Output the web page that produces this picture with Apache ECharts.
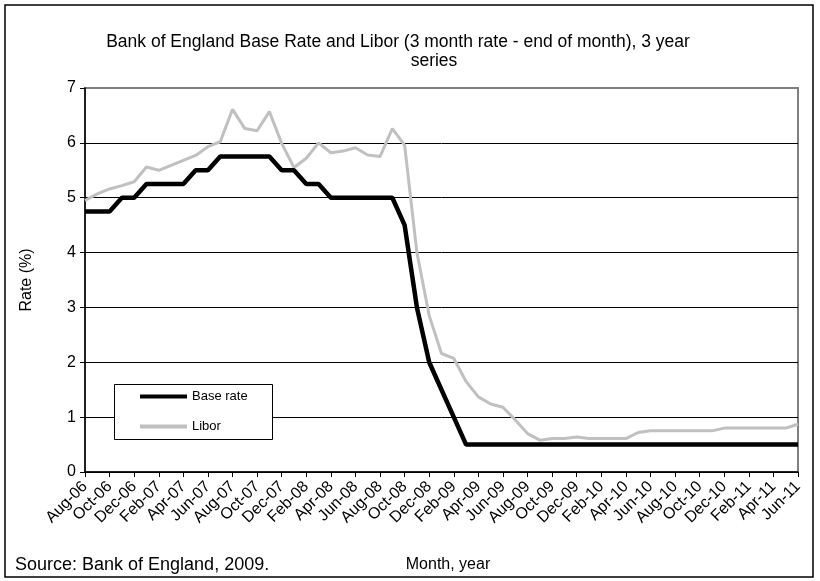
<!DOCTYPE html>
<html><head><meta charset="utf-8">
<script src="https://cdn.jsdelivr.net/npm/echarts@6/dist/echarts.min.js"></script>
<style>html,body{margin:0;padding:0;background:#fff}#c{width:820px;height:581px}</style>
</head><body><div id="c"></div>
<script>
const months = ['Aug-06','Sep-06','Oct-06','Nov-06','Dec-06','Jan-07','Feb-07','Mar-07','Apr-07','May-07','Jun-07','Jul-07',
'Aug-07','Sep-07','Oct-07','Nov-07','Dec-07','Jan-08','Feb-08','Mar-08','Apr-08','May-08','Jun-08','Jul-08',
'Aug-08','Sep-08','Oct-08','Nov-08','Dec-08','Jan-09','Feb-09','Mar-09','Apr-09','May-09','Jun-09','Jul-09',
'Aug-09','Sep-09','Oct-09','Nov-09','Dec-09','Jan-10','Feb-10','Mar-10','Apr-10','May-10','Jun-10','Jul-10',
'Aug-10','Sep-10','Oct-10','Nov-10','Dec-10','Jan-11','Feb-11','Mar-11','Apr-11','May-11','Jun-11'];
const baseRate = [4.75,4.75,4.75,5.0,5.0,5.25,5.25,5.25,5.25,5.5,5.5,5.75,
5.75,5.75,5.75,5.75,5.5,5.5,5.25,5.25,5.0,5.0,5.0,5.0,
5.0,5.0,4.5,3.0,2.0,1.5,1.0,0.5,0.5,0.5,0.5,0.5,
0.5,0.5,0.5,0.5,0.5,0.5,0.5,0.5,0.5,0.5,0.5,0.5,
0.5,0.5,0.5,0.5,0.5,0.5,0.5,0.5,0.5,0.5,0.5];
const libor = [4.95,5.07,5.16,5.22,5.29,5.56,5.50,5.59,5.68,5.77,5.93,6.02,
6.61,6.26,6.22,6.57,5.99,5.55,5.72,6.00,5.82,5.85,5.91,5.78,
5.75,6.26,5.96,4.00,2.85,2.16,2.07,1.65,1.37,1.24,1.18,0.95,
0.70,0.58,0.61,0.61,0.64,0.61,0.61,0.61,0.61,0.72,0.75,0.75,
0.75,0.75,0.75,0.75,0.80,0.80,0.80,0.80,0.80,0.80,0.87];
const yTicks = [0,1,2,3,4,5,6,7];
const titleLine1 = 'Bank of England Base Rate and Libor (3 month rate - end of month), 3 year';
const titleLine2 = 'series';

const FONT = '"Liberation Sans", Arial, sans-serif';
const chart = echarts.init(document.getElementById('c'), null, {renderer:'canvas'});
chart.setOption({
  animation:false,
  backgroundColor:'#fff',
  grid:{left:85, right:22, top:88, bottom:109, show:true, borderColor:'#808080', borderWidth:2, backgroundColor:'transparent'},
  xAxis:{
    type:'category', data:months, boundaryGap:false,
    axisLine:{lineStyle:{color:'#000', width:1.5}},
    axisTick:{show:true, interval:1, length:5, lineStyle:{color:'#000'}},
    axisLabel:{interval:1, rotate:45, color:'#000', fontFamily:FONT, fontSize:16, margin:12},
    splitLine:{show:false}
  },
  yAxis:{
    type:'value', min:0, max:7, interval:1,
    axisLine:{show:true, lineStyle:{color:'#000', width:1.5}},
    axisTick:{show:true, length:5, lineStyle:{color:'#000'}},
    axisLabel:{color:'#000', fontFamily:FONT, fontSize:16, margin:9, formatter:(v)=> yTicks.includes(v)? String(v):''},
    splitLine:{show:true, lineStyle:{color:['#000','#000','#000','#000','#000','#000','#000','#808080'], width:1}},
    name:'Rate (%)', nameLocation:'middle', nameGap:50, nameRotate:90,
    nameTextStyle:{color:'#000', fontFamily:FONT, fontSize:16}
  },
  legend:{
    show:true, orient:'vertical', left:135, top:385, itemWidth:47, itemHeight:4, itemGap:17,
    textStyle:{color:'#000', fontFamily:FONT, fontSize:13}, z:10,
    data:[{name:'Base rate', icon:'rect', itemStyle:{color:'#000'}},{name:'Libor', icon:'rect', itemStyle:{color:'#c0c0c0'}}]
  },
  graphic:[
    {type:'rect', z:5, shape:{x:5, y:5, width:808, height:572}, style:{fill:'none', stroke:'#000', lineWidth:1.5}},
    {type:'rect', z:5, shape:{x:114.5, y:384.5, width:158, height:55}, style:{fill:'#fff', stroke:'#000', lineWidth:1}},
    {type:'text', z:5, x:398, y:42, style:{text:titleLine1, font:'17.5px '+FONT, fill:'#000', textAlign:'center', textVerticalAlign:'middle'}},
    {type:'text', z:5, x:434, y:61, style:{text:titleLine2, font:'17.5px '+FONT, fill:'#000', textAlign:'center', textVerticalAlign:'middle'}},
    {type:'text', z:5, x:448, y:565, style:{text:'Month, year', font:'16px '+FONT, fill:'#000', textAlign:'center', textVerticalAlign:'middle'}},
    {type:'text', z:5, x:15, y:565, style:{text:'Source: Bank of England, 2009.', font:'18px '+FONT, fill:'#000', textAlign:'left', textVerticalAlign:'middle'}}
  ],
  series:[
    {name:'Base rate', type:'line', data:baseRate, showSymbol:false, symbol:'none', z:4,
     lineStyle:{color:'#000', width:4.5}, itemStyle:{color:'#000'}},
    {name:'Libor', type:'line', data:libor, showSymbol:false, symbol:'none', z:3,
     lineStyle:{color:'#c0c0c0', width:3}, itemStyle:{color:'#c0c0c0'}}
  ]
});
</script></body></html>
